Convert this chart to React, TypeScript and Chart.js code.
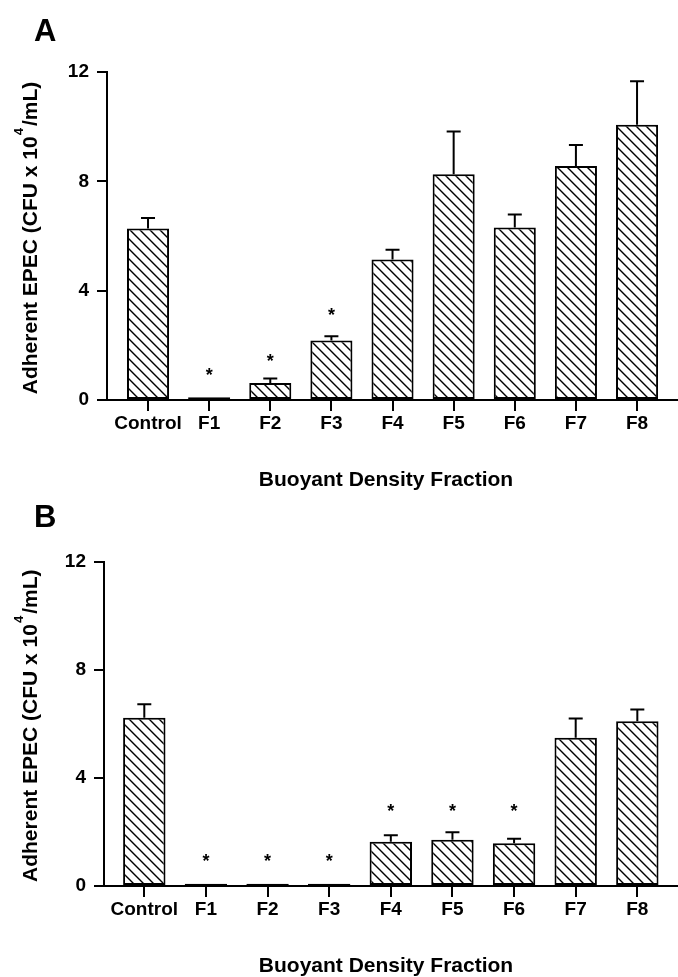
import React, { useEffect, useRef } from 'react';
import { Chart, registerables } from 'chart.js';

Chart.register(...registerables);

// ---- data ----
const categories = ['Control', 'F1', 'F2', 'F3', 'F4', 'F5', 'F6', 'F7', 'F8'];
const valuesA = [6.27, 0.1, 0.62, 2.18, 5.14, 8.26, 6.31, 8.56, 10.07];
const errorsA = [0.39, 0, 0.17, 0.15, 0.36, 1.56, 0.48, 0.77, 1.59];
const starsA: (number | null)[] = [null, 1.05, 1.56, 3.24, null, null, null, null, null];
const valuesB = [6.22, 0.08, 0.08, 0.08, 1.64, 1.71, 1.58, 5.48, 6.09];
const errorsB = [0.5, 0, 0, 0, 0.24, 0.28, 0.17, 0.71, 0.44];
const starsB: (number | null)[] = [null, 1.08, 1.08, 1.08, 2.91, 2.91, 2.91, null, null];
const yTicks = [0, 4, 8, 12];
const yMin = 0;
const yMax = 12;
const xTitle = 'Buoyant Density Fraction';
const yTitleMain = 'Adherent EPEC (CFU x 10';
const yTitleSup = '4';
const yTitleTail = '/mL)';

const FONT = '"Liberation Sans", Arial, Helvetica, sans-serif';

type Panel = {
  label: string;
  values: number[];
  errors: number[];
  stars: (number | null)[];
  offsetTop: number;
  height: number;
  top: number;
  bottom: number;
  left: number;
  xMin: number;
  xMax: number;
  labelBaseline: number;
};

const panels: Panel[] = [
  { label: 'A', values: valuesA, errors: errorsA, stars: starsA, offsetTop: 0, height: 500, top: 72, bottom: 400, left: 107, xMin: -0.671, xMax: 8.67, labelBaseline: 41 },
  { label: 'B', values: valuesB, errors: errorsB, stars: starsB, offsetTop: 500, height: 477, top: 61.5, bottom: 386, left: 104, xMin: -0.654, xMax: 8.66, labelBaseline: 27 },
];

function makeHatch(ctx: CanvasRenderingContext2D) {
  const s = 10;
  const c = document.createElement('canvas');
  c.width = s;
  c.height = s;
  const g = c.getContext('2d')!;
  g.fillStyle = '#fff';
  g.fillRect(0, 0, s, s);
  g.strokeStyle = '#000';
  g.lineWidth = 1.4;
  g.beginPath();
  g.moveTo(-2, -2);
  g.lineTo(s + 2, s + 2);
  g.moveTo(-2, s - 2);
  g.lineTo(2, s + 2);
  g.moveTo(s - 2, -2);
  g.lineTo(s + 2, 2);
  g.stroke();
  return ctx.createPattern(c, 'repeat')!;
}

function PanelChart({ p }: { p: Panel }) {
  const ref = useRef<HTMLCanvasElement | null>(null);
  useEffect(() => {
    const canvas = ref.current!;
    const ctx = canvas.getContext('2d')!;
    const hatch = makeHatch(ctx);

    const overlay = {
      id: 'overlay',
      afterDatasetsDraw(chart: any) {
        const c = chart.ctx as CanvasRenderingContext2D;
        const ys = chart.scales.y;
        const xs = chart.scales.x;
        const meta = chart.getDatasetMeta(0);
        c.save();
        c.strokeStyle = '#000';
        c.lineWidth = 2;
        meta.data.forEach((bar: any, i: number) => {
          const e = p.errors[i];
          if (!e) return;
          const x = bar.x;
          const y0 = ys.getPixelForValue(p.values[i]);
          const y1 = ys.getPixelForValue(p.values[i] + e);
          c.beginPath();
          c.moveTo(x, y0);
          c.lineTo(x, y1);
          c.moveTo(x - 7, y1);
          c.lineTo(x + 7, y1);
          c.stroke();
        });
        // asterisks
        c.fillStyle = '#000';
        c.font = `bold 18px ${FONT}`;
        c.textAlign = 'center';
        c.textBaseline = 'alphabetic';
        p.stars.forEach((s, i) => {
          if (s == null) return;
          const x = xs.getPixelForValue(i);
          const y = ys.getPixelForValue(s);
          c.fillText('*', x, y + 10);
        });
        c.restore();
      },
      afterDraw(chart: any) {
        const c = chart.ctx as CanvasRenderingContext2D;
        const area = chart.chartArea;
        c.save();
        c.fillStyle = '#000';
        // panel label
        c.font = `bold 31px ${FONT}`;
        c.textAlign = 'left';
        c.textBaseline = 'alphabetic';
        c.fillText(p.label, 34, p.labelBaseline);
        // x title
        c.font = `bold 21px ${FONT}`;
        c.textAlign = 'center';
        c.fillText(xTitle, 386, area.bottom + 86);
        // y title with superscript
        const cy = (area.top + area.bottom) / 2 + 2;
        c.translate(37, cy);
        c.rotate(-Math.PI / 2);
        c.textAlign = 'left';
        const mainFont = `bold 21px ${FONT}`;
        const supFont = `bold 13px ${FONT}`;
        c.font = mainFont;
        const w1 = c.measureText(yTitleMain).width;
        const w3 = c.measureText(yTitleTail).width;
        c.font = supFont;
        const w2 = c.measureText(yTitleSup).width + 3;
        let x0 = -(w1 + w2 + w3) / 2;
        c.font = mainFont;
        c.fillText(yTitleMain, x0, 0);
        x0 += w1;
        c.font = supFont;
        c.fillText(yTitleSup, x0 + 1, -14);
        x0 += w2;
        c.font = mainFont;
        c.fillText(yTitleTail, x0, 0);
        c.restore();
      },
    };

    const chart = new Chart(ctx, {
      type: 'bar',
      data: {
        datasets: [
          {
            data: p.values.map((v, i) => ({ x: i, y: v })),
            backgroundColor: hatch,
            borderColor: '#000',
            borderWidth: 2,
            borderSkipped: false,
            barPercentage: 0.86,
            categoryPercentage: 0.8,
          },
        ],
      },
      options: {
        animation: false,
        responsive: false,
        events: [],
        layout: { padding: { top: p.top, left: 0, right: 0, bottom: 0 } },
        plugins: { legend: { display: false }, tooltip: { enabled: false }, title: { display: false } },
        scales: {
          x: {
            type: 'linear',
            min: p.xMin,
            max: p.xMax,
            offset: false,
            grid: { display: true, offset: false, drawOnChartArea: false, drawTicks: true, tickLength: 11, color: '#000', lineWidth: 2 },
            border: { display: true, color: '#000', width: 2 },
            ticks: {
              autoSkip: false,
              maxRotation: 0,
              padding: 1,
              color: '#000',
              font: { family: FONT, size: 19, weight: 'bold' },
              callback: (v: any) => categories[v] ?? '',
            },
            afterBuildTicks: (s: any) => {
              s.ticks = categories.map((_, i) => ({ value: i }));
            },
            afterFit: (s: any) => {
              s.height = p.height - p.bottom;
            },
          },
          y: {
            type: 'linear',
            min: yMin,
            max: yMax,
            grid: { display: true, drawOnChartArea: false, drawTicks: true, tickLength: 10, color: '#000', lineWidth: 2 },
            border: { display: true, color: '#000', width: 2 },
            ticks: {
              padding: 8,
              color: '#000',
              font: { family: FONT, size: 19, weight: 'bold' },
            },
            afterBuildTicks: (s: any) => {
              s.ticks = yTicks.map((v) => ({ value: v }));
            },
            afterFit: (s: any) => {
              s.width = p.left;
            },
          },
        },
      } as any,
      plugins: [overlay],
    });
    return () => chart.destroy();
  }, [p]);
  return (
    <canvas
      ref={ref}
      width={678}
      height={p.height}
      style={{ position: 'absolute', left: 0, top: p.offsetTop, display: 'block' }}
    />
  );
}

export default function App() {
  return (
    <div style={{ position: 'absolute', left: 0, top: 0, width: 678, height: 977, background: '#fff', overflow: 'hidden' }}>
      {panels.map((p) => (
        <PanelChart key={p.label} p={p} />
      ))}
    </div>
  );
}
